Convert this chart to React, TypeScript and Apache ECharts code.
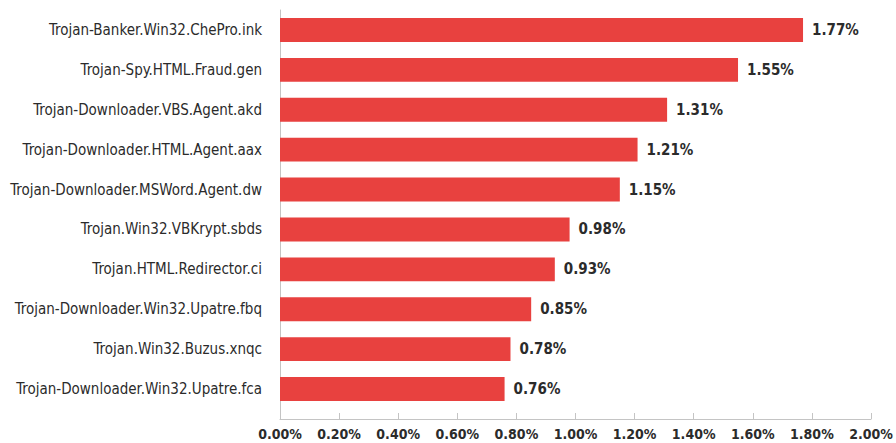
import React, { useEffect, useRef } from "react";
import * as echarts from "echarts";

const categories = [
  "Trojan-Banker.Win32.ChePro.ink",
  "Trojan-Spy.HTML.Fraud.gen",
  "Trojan-Downloader.VBS.Agent.akd",
  "Trojan-Downloader.HTML.Agent.aax",
  "Trojan-Downloader.MSWord.Agent.dw",
  "Trojan.Win32.VBKrypt.sbds",
  "Trojan.HTML.Redirector.ci",
  "Trojan-Downloader.Win32.Upatre.fbq",
  "Trojan.Win32.Buzus.xnqc",
  "Trojan-Downloader.Win32.Upatre.fca",
];
const values = [1.77, 1.55, 1.31, 1.21, 1.15, 0.98, 0.93, 0.85, 0.78, 0.76];
const axisMin = 0;
const axisMax = 2;
const axisStep = 0.2;

const FONT = "'DejaVu Sans Condensed', 'Liberation Sans Narrow', sans-serif";
const TEXT = "#2b2b2b";
const RED = "#e8413f";
const GRAY = "#c4c4c4";

export default function App() {
  const ref = useRef<HTMLDivElement>(null);
  useEffect(() => {
    if (!ref.current) return;
    const chart = echarts.init(ref.current, null, { renderer: "svg" });
    chart.setOption({
      animation: false,
      backgroundColor: "#ffffff",
      grid: [
        { left: 280, right: 25, top: 10, bottom: 34, outerBoundsMode: "none", containLabel: false },
        { left: 280, right: 25, top: 10, bottom: 24, outerBoundsMode: "none", containLabel: false },
      ],
      xAxis: [
        {
          gridIndex: 0,
          type: "value",
          min: axisMin,
          max: axisMax,
          interval: axisStep,
          show: false,
        },
        {
          gridIndex: 1,
          type: "value",
          min: axisMin,
          max: axisMax,
          interval: axisStep,
          axisLine: { show: true, lineStyle: { color: GRAY, width: 1 } },
          axisTick: { show: true, inside: true, length: 6, lineStyle: { color: GRAY } },
          splitLine: { show: false },
          axisLabel: {
            margin: 8,
            fontFamily: FONT,
            fontSize: 14,
            fontWeight: "bold",
            color: TEXT,
            formatter: (v: number) => v.toFixed(2) + "%",
          },
        },
      ],
      yAxis: [
        {
          gridIndex: 0,
          type: "category",
          data: categories,
          inverse: true,
          axisLine: { show: false },
          axisTick: { show: false },
          axisLabel: {
            margin: 18,
            fontFamily: FONT,
            fontSize: 15,
            color: TEXT,
          },
        },
        {
          gridIndex: 1,
          type: "value",
          axisLine: { show: true, onZero: false, lineStyle: { color: GRAY, width: 1 } },
          axisTick: { show: false },
          axisLabel: { show: false },
          splitLine: { show: false },
        },
      ],
      series: [
        {
          type: "bar",
          xAxisIndex: 0,
          yAxisIndex: 0,
          data: values,
          barCategoryGap: "40%",
          itemStyle: { color: RED },
          label: {
            show: true,
            position: "right",
            distance: 9,
            fontFamily: FONT,
            fontSize: 15,
            fontWeight: "bold",
            color: TEXT,
            formatter: (p: any) => p.value.toFixed(2) + "%",
          },
        },
      ],
    });
    return () => chart.dispose();
  }, []);
  return (
    <div
      ref={ref}
      style={{ position: "absolute", left: 0, top: 0, width: 896, height: 443 }}
    />
  );
}
